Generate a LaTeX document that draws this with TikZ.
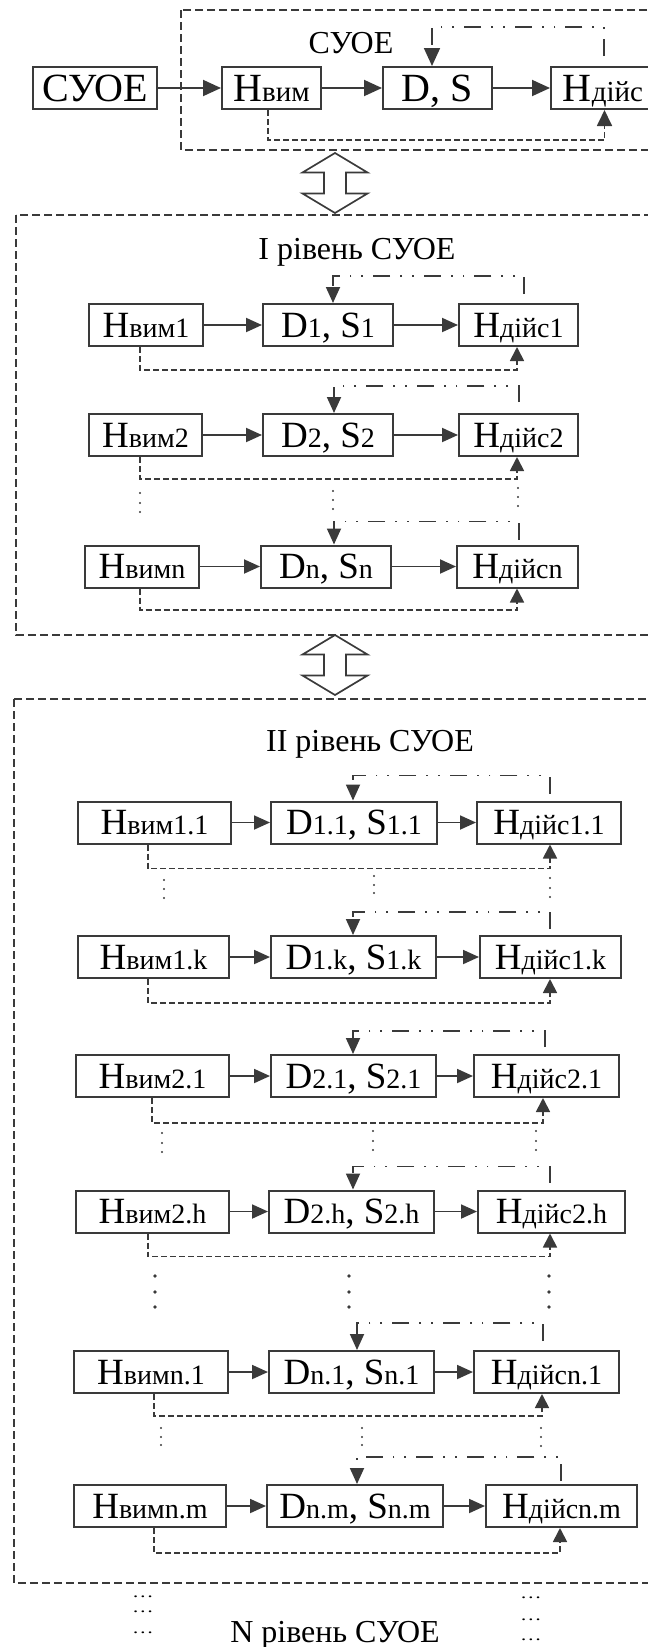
\documentclass[tikz,border=0pt]{standalone}
\usepackage{fontspec}
\setmainfont{Liberation Serif}
\usetikzlibrary{arrows.meta,calc}
\definecolor{ink}{HTML}{3A3A3A}

% smaller trailing part of a box label (same baseline)
\newcommand{\lowA}[1]{{\fontsize{29}{30}\selectfont #1}}
\newcommand{\lowB}[1]{{\fontsize{28}{30}\selectfont #1}}

\tikzset{
  box/.style={draw=ink, line width=2pt, fill=white, inner sep=0pt,
    minimum height=42pt, text height=24.5pt, text depth=0pt,
    font=\fontsize{37}{40}\selectfont},
  topbox/.style={box, font=\fontsize{40}{44}\selectfont, text height=26.5pt},
  title/.style={inner sep=0pt, font=\fontsize{32}{36}\selectfont,
    text height=21pt, text depth=0pt},
  ell/.style={inner sep=0pt, font=\fontsize{12}{12}\selectfont,
    text height=1pt, text depth=0pt, xscale=1.8, yscale=1.3, transform shape},
  flow/.style={draw=ink, line width=1.9pt, -{Triangle[length=16pt,width=14pt]}},
  topflow/.style={flow, -{Triangle[length=18pt,width=16pt]}},
  fback/.style={draw=ink, line width=1.8pt,
    dash pattern=on 17pt off 10pt on 1.8pt off 10pt on 1.8pt off 10pt,
    -{Triangle[length=16pt,width=14pt]}},
  loopl/.style={draw=ink, line width=1.8pt, dash pattern=on 6pt off 3pt,
    -{Triangle[length=14pt,width=14pt]}},
  frame/.style={draw=ink, line width=1.8pt, dash pattern=on 8pt off 4pt},
  dblarrow/.pic={
    \draw[ink, line width=1.7pt, fill=white]
      (0,-30) -- (32.5,-10.5) -- (11,-10.5) -- (11,10.5) -- (32.5,10.5)
      -- (0,30) -- (-32.5,10.5) -- (-11,10.5) -- (-11,-10.5) -- (-32.5,-10.5) -- cycle;
  }
}

\begin{document}
\begin{tikzpicture}[x=1pt,y=-1pt]
\useasboundingbox (0,0) rectangle (648,1647);

% ---------- top: the system as a whole ----------
\draw[frame] (181,10) rectangle (664,150);
\node[title] (t0) at (351,43) {СУОЕ};
\node[topbox, minimum width=124pt] (s0) at (95,88) {СУОЕ};
\node[topbox, minimum width=99pt] (sHv) at (271.5,88) {Н\lowA{вим}};
\node[topbox, minimum width=109pt] (sDS) at (437.5,88) {D, S};
\node[topbox, minimum width=104pt] (sHd) at (603,88) {Н\lowA{дійс}};
\draw[topflow] (s0) -- (sHv);
\draw[topflow] (sHv) -- (sDS);
\draw[topflow] (sDS) -- (sHd);
\draw[fback, -{Triangle[length=18pt,width=16pt]}]
  ([xshift=1pt,yshift=10pt]sHd.north) |- ([xshift=-5.5pt,yshift=39pt]sDS.north)
  -- ([xshift=-5.5pt]sDS.north);
\draw[loopl, -{Triangle[length=16pt,width=15pt]}]
  ([xshift=-3.5pt]sHv.south) -- ++(0,30) -| ([xshift=1.5pt]sHd.south);

\pic at (335,183) {dblarrow};

% ---------- level I ----------
\draw[frame] (16,215) rectangle (664,635);
\node[title] (t1) at (357,249) {I рівень СУОЕ};

\node[box, minimum width=114pt] (a1) at (146,325) {Н\lowB{вим1}};
\node[box, minimum width=130pt] (b1) at (328,325) {D\lowB{1}, S\lowB{1}};
\node[box, minimum width=119pt] (c1) at (518.5,325) {Н\lowB{дійс1}};
\draw[flow] (a1) -- (b1);
\draw[flow] (b1) -- (c1);
\draw[fback] ([xshift=5.5pt,yshift=9pt]c1.north) |- ([xshift=5pt,yshift=27pt]b1.north)
  -- ([xshift=5pt]b1.north);
\draw[loopl] ([xshift=-6pt]a1.south) -- ++(0,23) -| ([xshift=-1.5pt]c1.south);

\node[box, minimum width=113pt] (a2) at (145.5,435) {Н\lowB{вим2}};
\node[box, minimum width=130pt] (b2) at (328,435) {D\lowB{2}, S\lowB{2}};
\node[box, minimum width=119pt] (c2) at (518.5,435) {Н\lowB{дійс2}};
\draw[flow] (a2) -- (b2);
\draw[flow] (b2) -- (c2);
\draw[fback] ([xshift=0.5pt,yshift=11pt]c2.north) |- ([xshift=6pt,yshift=27pt]b2.north)
  -- ([xshift=6pt]b2.north);
\draw[loopl] ([xshift=-5.5pt]a2.south) -- ++(0,22) -| ([xshift=-1.5pt]c2.south);

\foreach \x/\y in {140/493,140/503,140/512,333/491,333/500,333/509,518/488,518/497,518/506}
  \fill[ink] (\x,\y) circle (1.2pt);

\node[box, minimum width=114pt] (an) at (142,566.5) {Н\lowB{вимn}};
\node[box, minimum width=130pt] (bn) at (326,566.5) {D\lowB{n}, S\lowB{n}};
\node[box, minimum width=121pt] (cn) at (517.5,566.5) {Н\lowB{дійсn}};
\draw[flow] (an) -- (bn);
\draw[flow] (bn) -- (cn);
\draw[fback] ([xshift=1.5pt,yshift=5pt]cn.north) |- ([xshift=8pt,yshift=23pt]bn.north)
  -- ([xshift=8pt]bn.north);
\draw[loopl] ([xshift=-2pt]an.south) -- ++(0,21.5) -| ([xshift=-0.5pt]cn.south);

\pic at (335,665) {dblarrow};

% ---------- level II ----------
\draw[frame] (14,699) rectangle (664,1583);
\node[title] (t2) at (370,741) {II рівень СУОЕ};

% row 1.1
\node[box, minimum width=153pt] (p1) at (154.5,822.5) {Н\lowB{вим1.1}};
\node[box, minimum width=166pt] (q1) at (354,822.5) {D\lowB{1.1}, S\lowB{1.1}};
\node[box, minimum width=144pt] (r1) at (549,822.5) {Н\lowB{дійс1.1}};
\draw[flow] (p1) -- (q1);
\draw[flow] (q1) -- (r1);
\draw[fback] ([xshift=1pt,yshift=7pt]r1.north) |- ([xshift=-1pt,yshift=25pt]q1.north)
  -- ([xshift=-1pt]q1.north);
\draw[loopl] ([xshift=-6.5pt]p1.south) -- ++(0,24) -| ([xshift=1pt]r1.south);
\foreach \x/\y in {164/880,164/889,164/898,374/876,374/885,374/893,550/878,550/888,550/897}
  \fill[ink] (\x,\y) circle (1.2pt);

% row 1.k
\node[box, minimum width=151pt] (p2) at (153.5,957) {Н\lowB{вим1.k}};
\node[box, minimum width=165pt] (q2) at (353.5,957) {D\lowB{1.k}, S\lowB{1.k}};
\node[box, minimum width=141pt] (r2) at (550.5,957) {Н\lowB{дійс1.k}};
\draw[flow] (p2) -- (q2);
\draw[flow] (q2) -- (r2);
\draw[fback] ([xshift=-0.5pt,yshift=6pt]r2.north) |- ([xshift=-0.5pt,yshift=23pt]q2.north)
  -- ([xshift=-0.5pt]q2.north);
\draw[loopl] ([xshift=-5.5pt]p2.south) -- ++(0,24) -| ([xshift=-0.5pt]r2.south);

% row 2.1
\node[box, minimum width=153pt] (p3) at (152.5,1076) {Н\lowB{вим2.1}};
\node[box, minimum width=165pt] (q3) at (353.5,1076) {D\lowB{2.1}, S\lowB{2.1}};
\node[box, minimum width=145pt] (r3) at (546.5,1076) {Н\lowB{дійс2.1}};
\draw[flow] (p3) -- (q3);
\draw[flow] (q3) -- (r3);
\draw[fback] ([xshift=-1.5pt,yshift=7pt]r3.north) |- ([xshift=-0.5pt,yshift=23pt]q3.north)
  -- ([xshift=-0.5pt]q3.north);
\draw[loopl] ([xshift=-0.5pt]p3.south) -- ++(0,25) -| ([xshift=-3.5pt]r3.south);
\foreach \x/\y in {162/1133,162/1143,162/1152,373/1131,373/1141,373/1150,536/1131,536/1141,536/1150}
  \fill[ink] (\x,\y) circle (1.2pt);

% row 2.h
\node[box, minimum width=153pt] (p4) at (152.5,1211.5) {Н\lowB{вим2.h}};
\node[box, minimum width=165pt] (q4) at (351.5,1211.5) {D\lowB{2.h}, S\lowB{2.h}};
\node[box, minimum width=147pt] (r4) at (551.5,1211.5) {Н\lowB{дійс2.h}};
\draw[flow] (p4) -- (q4);
\draw[flow] (q4) -- (r4);
\draw[fback] ([xshift=-1.5pt,yshift=7pt]r4.north) |- ([xshift=1.5pt,yshift=23pt]q4.north)
  -- ([xshift=1.5pt]q4.north);
\draw[loopl] ([xshift=-4.5pt]p4.south) -- ++(0,23) -| ([xshift=-1.5pt]r4.south);
\foreach \x/\y in {155/1276,155/1292,155/1307,349/1276,349/1292,349/1307,549/1276,549/1292,549/1307}
  \fill[ink] (\x,\y) circle (1.9pt);

% row n.1
\node[box, minimum width=154pt] (p5) at (151,1372) {Н\lowB{вимn.1}};
\node[box, minimum width=165pt] (q5) at (351.5,1372) {D\lowB{n.1}, S\lowB{n.1}};
\node[box, minimum width=145pt] (r5) at (546.5,1372) {Н\lowB{дійсn.1}};
\draw[flow] (p5) -- (q5);
\draw[flow] (q5) -- (r5);
\draw[fback] ([xshift=-3.5pt,yshift=9pt]r5.north) |- ([xshift=5.5pt,yshift=27pt]q5.north)
  -- ([xshift=5.5pt]q5.north);
\draw[loopl] ([xshift=3pt]p5.south) -- ++(0,22) -| ([xshift=-4.5pt]r5.south);
\foreach \x/\y in {161/1428,161/1437,161/1445,362/1428,362/1437,362/1445,541/1428,541/1437,541/1446}
  \fill[ink] (\x,\y) circle (1.2pt);

% row n.m
\node[box, minimum width=152pt] (p6) at (150,1506) {Н\lowB{вимn.m}};
\node[box, minimum width=176pt] (q6) at (355,1506) {D\lowB{n.m}, S\lowB{n.m}};
\node[box, minimum width=151pt] (r6) at (561.5,1506) {Н\lowB{дійсn.m}};
\draw[flow] (p6) -- (q6);
\draw[flow] (q6) -- (r6);
\draw[fback] ([xshift=-0.5pt,yshift=3pt]r6.north) |- ([xshift=2pt,yshift=27pt]q6.north)
  -- ([xshift=2pt]q6.north);
\draw[loopl] ([xshift=4pt]p6.south) -- ++(0,25) -| ([xshift=-1.5pt]r6.south);

% ---------- further levels ----------
\node[ell] (e1) at (143,1597) {…};
\node[ell] (e2) at (143,1612) {…};
\node[ell] (e3) at (143,1633) {…};
\node[ell] (e4) at (531,1598) {…};
\node[ell] (e5) at (531,1620) {…};
\node[ell] (e6) at (531,1640) {…};
\node[title] (tN) at (335,1632) {N рівень СУОЕ};
\end{tikzpicture}
\end{document}
